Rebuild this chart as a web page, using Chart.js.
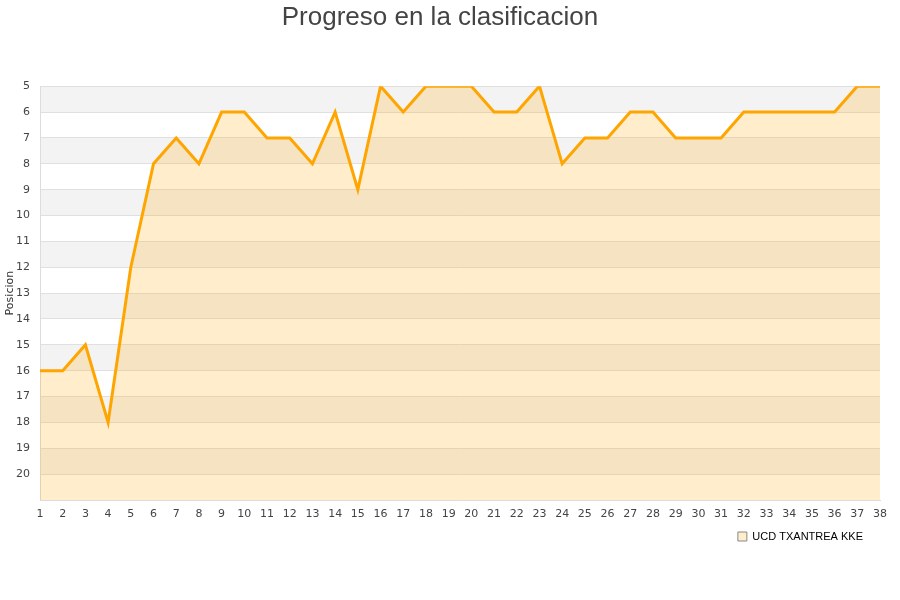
<!DOCTYPE html>
<html>
<head>
<meta charset="utf-8">
<script src="https://cdn.jsdelivr.net/npm/chart.js@4"></script>
<style>
  body { margin: 0; background: #fff; }
  #wrap { width: 900px; height: 600px; }
</style>
</head>
<body>
<div id="wrap"><canvas id="myChart" width="900" height="600"></canvas></div>
<script>
const jornadas = ["1","2","3","4","5","6","7","8","9","10","11","12","13","14","15","16","17","18","19",
  "20","21","22","23","24","25","26","27","28","29","30","31","32","33","34","35","36","37","38"];
const posiciones = [16, 16, 15, 18, 12, 8, 7, 8, 6, 6, 7, 7, 8, 6, 9, 5, 6, 5, 5,
  5, 6, 6, 5, 8, 7, 7, 6, 6, 7, 7, 7, 6, 6, 6, 6, 6, 5, 5];
const equipo = "UCD TXANTREA KKE";
const posMin = 5;
const posMax = 21;

// franjas grises alternas en el fondo
const bandas = {
  id: 'bandas',
  beforeDraw(chart) {
    const { ctx, chartArea, scales } = chart;
    ctx.save();
    ctx.fillStyle = '#f3f3f3';
    for (let v = posMin; v < posMax; v += 2) {
      const y1 = scales.y.getPixelForValue(v);
      const y2 = scales.y.getPixelForValue(v + 1);
      ctx.fillRect(chartArea.left, y1, chartArea.right - chartArea.left, y2 - y1);
    }
    ctx.restore();
    // la leyenda queda un poco mas a la izquierda
    if (chart.legend) chart.legend.right -= 7;
  }
};

const ctx = document.getElementById("myChart").getContext("2d");

const myChart = new Chart(ctx, {
  type: 'line',
  data: {
    labels: jornadas,
    datasets: [{
      label: equipo,
      data: posiciones,
      borderColor: '#ffa500',
      borderWidth: 3,
      backgroundColor: 'rgba(255,165,0,0.2)',
      fill: { value: posMax },
      pointRadius: 0,
      tension: 0
    }]
  },
  options: {
    responsive: false,
    animation: false,
    devicePixelRatio: 1,
    layout: { padding: { left: 0, right: 20, top: 0, bottom: 48 } },
    scales: {
      y: {
        reverse: true,
        min: posMin,
        max: posMax,
        afterFit: (s) => { s.width = 40; },
        ticks: {
          stepSize: 1,
          padding: 10,
          color: '#444',
          font: { family: 'DejaVu Sans', size: 11 },
          callback: (v) => (v === posMax ? '' : v)
        },
        grid: { color: '#e0e0e0', drawTicks: false },
        border: { color: '#dddddd' },
        title: {
          display: true,
          text: 'Posicion',
          color: '#333',
          font: { family: 'DejaVu Sans', size: 11 },
          padding: 4
        }
      },
      x: {
        afterFit: (s) => { s.height = 21; },
        ticks: {
          padding: 8,
          maxRotation: 0,
          autoSkip: false,
          color: '#444',
          font: { family: 'DejaVu Sans', size: 11 }
        },
        grid: { display: false, drawTicks: false },
        border: { color: '#dddddd' }
      }
    },
    plugins: {
      title: {
        display: true,
        text: 'Progreso en la clasificacion',
        color: '#444',
        font: { family: 'Liberation Sans', size: 26, weight: 'normal' },
        padding: { top: 2, bottom: 53 }
      },
      legend: {
        position: 'bottom',
        align: 'end',
        labels: {
          boxWidth: 9,
          boxHeight: 9,
          padding: 10,
          color: '#222',
          font: { family: 'Liberation Sans', size: 11 },
          generateLabels: (chart) => chart.data.datasets.map((d, i) => ({
            text: d.label,
            fillStyle: 'rgba(255,165,0,0.2)',
            strokeStyle: '#888',
            lineWidth: 1,
            datasetIndex: i
          }))
        }
      },
      tooltip: { enabled: false }
    }
  },
  plugins: [bandas]
});
</script>
</body>
</html>
